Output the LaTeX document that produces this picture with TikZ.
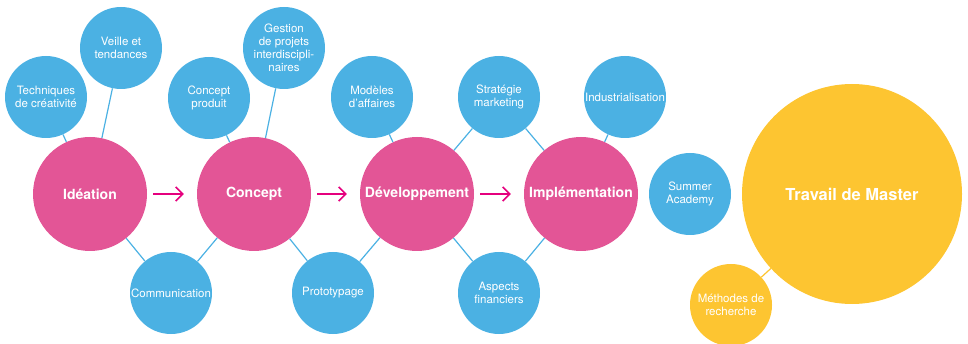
\documentclass[tikz,border=0pt]{standalone}
\usepackage{fontspec}
\setmainfont{TeX Gyre Heros}
\usetikzlibrary{arrows.meta}
\definecolor{rose}{HTML}{E35596}
\definecolor{bleu}{HTML}{4BB1E3}
\definecolor{jaune}{HTML}{FDC531}
\definecolor{fleche}{HTML}{E5007E}
\tikzset{
 etape/.style={circle,fill=rose,text=white,minimum size=114pt,inner sep=0pt,font=\fontsize{14}{16}\selectfont\bfseries},
 theme/.style={circle,fill=bleu,text=white,minimum size=82pt,inner sep=0pt,align=center,font=\fontsize{11.5}{13}\selectfont},
 master/.style={circle,fill=jaune,text=white,minimum size=220pt,inner sep=0pt,font=\fontsize{16.5}{18}\selectfont\bfseries},
 lien/.style={bleu,line width=1.2pt},
 suite/.style={fleche,line width=1.5pt,-{Straight Barb[length=7pt,width=14pt]},shorten <=6pt,shorten >=13pt}
}
\begin{document}
\begin{tikzpicture}[x=1pt,y=-1pt]
 \useasboundingbox (0,0) rectangle (968,344);
 \node[etape] (ideation) at (90,194) {Idéation};
 \node[etape] (concept) at (254,194) {Concept};
 \node[etape] (dev) at (417,194) {Développement};
 \node[etape] (impl) at (581,194) {Implémentation};
 \node[master] (travail) at (852,194) {Travail de Master};
 \node[theme] (techniques) at (46,97) {Techniques\\de créativité};
 \node[theme] (veille) at (121,48) {Veille et\\tendances};
 \node[theme] (communication) at (171,293) {Communication};
 \node[theme] (produit) at (209,98) {Concept\\produit};
 \node[theme] (gestion) at (284,48) {Gestion\\de projets\\interdiscipli-\\naires};
 \node[theme] (prototypage) at (333,293) {Prototypage};
 \node[theme] (modeles) at (372,97) {Modèles\\d’affaires};
 \node[theme] (strategie) at (499,97) {Stratégie\\marketing};
 \node[theme] (aspects) at (499,293) {Aspects\\financiers};
 \node[theme] (indus) at (625,97) {Industrialisation};
 \node[theme] (summer) at (690,194) {Summer\\Academy};
 \node[theme,fill=jaune] (methodes) at (731,305) {Méthodes de\\recherche};
 \draw[lien] (techniques) -- (ideation);
 \draw[lien] (veille) -- (ideation);
 \draw[lien] (communication) -- (ideation);
 \draw[lien] (communication) -- (concept);
 \draw[lien] (produit) -- (concept);
 \draw[lien] (gestion) -- (concept);
 \draw[lien] (prototypage) -- (concept);
 \draw[lien] (prototypage) -- (dev);
 \draw[lien] (modeles) -- (dev);
 \draw[lien] (strategie) -- (dev);
 \draw[lien] (strategie) -- (impl);
 \draw[lien] (aspects) -- (dev);
 \draw[lien] (aspects) -- (impl);
 \draw[lien] (indus) -- (impl);
 \draw[lien,jaune] (methodes) -- (travail);
 \draw[suite] (ideation) -- (concept);
 \draw[suite] (concept) -- (dev);
 \draw[suite] (dev) -- (impl);
\end{tikzpicture}
\end{document}
